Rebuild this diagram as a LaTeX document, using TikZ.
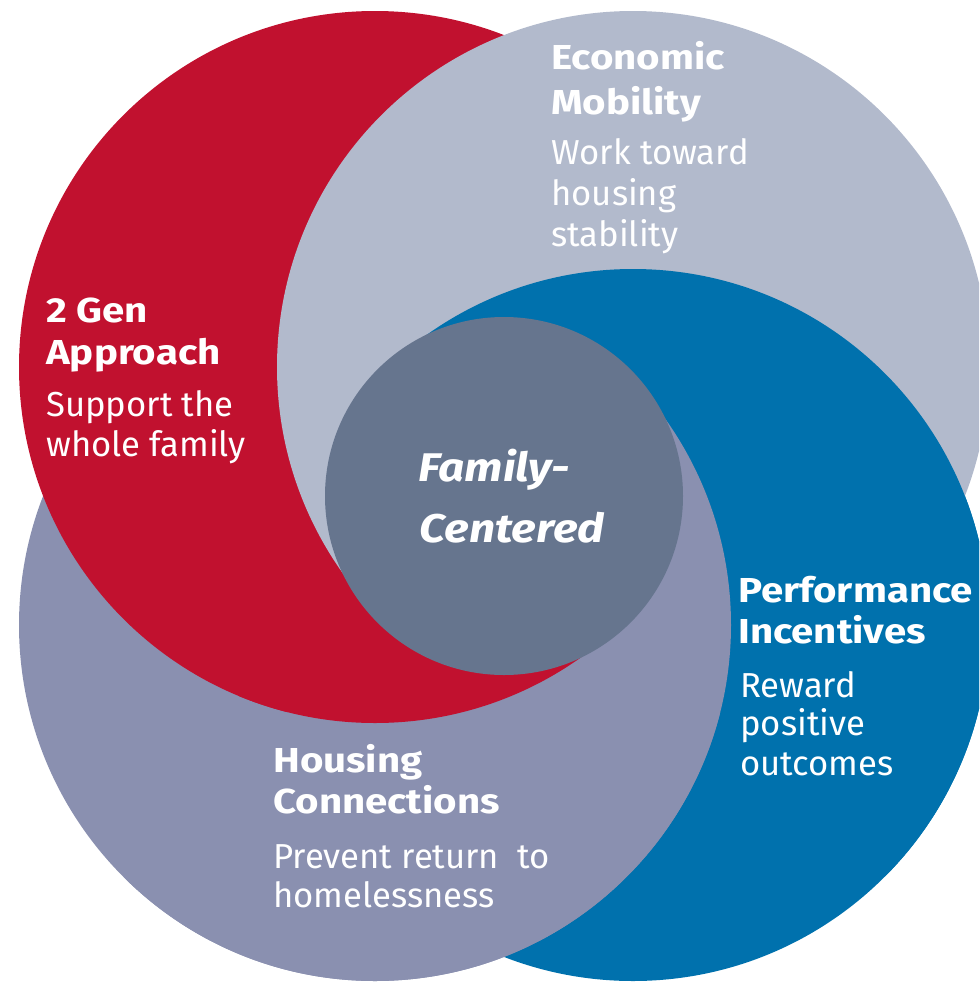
\documentclass[tikz,border=0pt]{standalone}
\usepackage{fontspec}
\setmainfont{Fira Sans}
\newfontfamily\widefont[FakeStretch=1.16]{Fira Sans}
\newfontfamily\ctrfont[FakeStretch=1.15]{Fira Sans}
\definecolor{cred}{HTML}{C1112F}
\definecolor{clg}{HTML}{B2BACC}
\definecolor{cblue}{HTML}{0071AD}
\definecolor{cpur}{HTML}{8A90B0}
\definecolor{cctr}{HTML}{66758E}
\newcommand\bigR{267pt}
\newcommand\diskP{\fill[cpur] (cP) circle[radius=\bigR];}
\newcommand\diskR{\fill[cred] (cR) circle[radius=\bigR];}
\newcommand\diskL{\fill[clg] (cL) circle[radius=\bigR];}
\newcommand\diskB{\fill[cblue] (cB) circle[radius=\bigR];}
\tikzset{
  title/.style={font=\fontsize{26}{30}\selectfont\widefont\bfseries, text=white, anchor=base west, inner sep=0},
  body/.style={font=\fontsize{26}{30}\selectfont, text=white, anchor=base west, inner sep=0},
  ctext/.style={font=\fontsize{30}{34}\selectfont\ctrfont\bfseries\itshape, text=white, anchor=base, inner sep=0}
}
\begin{document}
\begin{tikzpicture}[x=0.75pt,y=-0.75pt]
\useasboundingbox (0,0) rectangle (979,982);
\clip (0,0) rectangle (979,982);
\coordinate (cC) at (504,496);
\coordinate (cR) at (375,367);
\coordinate (cL) at (633,367);
\coordinate (cB) at (633,625);
\coordinate (cP) at (375,625);
% 1: stacking of the left quarter everywhere
\diskB \diskP \diskR \diskL
% 2: Economic Mobility circle above, in the top and right quarters
\begin{scope}
  \clip (cC) -- +(-1500,-1500) -- +(1500,-1500) -- +(1500,1500) -- cycle;
  \diskB
\end{scope}
% 3: Housing circle above, in the right and bottom quarters
\begin{scope}
  \clip (cC) -- +(1500,-1500) -- +(1500,1500) -- +(-1500,1500) -- cycle;
  \diskP
\end{scope}
% 4: 2 Gen circle above, in the bottom quarter (and a little beyond)
\begin{scope}
  \clip (cC) -- +(1500,1500) -- +(-1600,1500) -- +(-1597,1204) -- cycle;
  \diskR
\end{scope}
% centre
\node[circle, minimum size=268.5pt, inner sep=0, outer sep=0, fill=cctr] (centre) at (cC) {};
% texts
\node[title] (e1) at (551,69) {Economic};
\node[title] (e2) at (551,114) {Mobility};
\node[body] (e3) at (551,164) {Work toward};
\node[body] (e4) at (551,205) {housing};
\node[body] (e5) at (551,246) {stability};
\node[title] (g1) at (46,322) {2 Gen};
\node[title] (g2) at (46,364) {Approach};
\node[body] (g3) at (46,416) {Support the};
\node[body] (g4) at (46,456) {whole family};
\node[title] (p1) at (738,602) {Performance};
\node[title] (p2) at (738,643) {Incentives};
\node[body] (p3) at (740,697) {Reward};
\node[body] (p4) at (740,735) {positive};
\node[body] (p5) at (740,775) {outcomes};
\node[title] (h1) at (273,772) {Housing};
\node[title] (h2) at (273,813) {Connections};
\node[body] (h3) at (273,868) {Prevent return\ \ to};
\node[body] (h4) at (273,907) {homelessness};
\node[ctext] (c1) at (494,481) {Family-};
\node[ctext] (c2) at (512,542) {Centered};
\end{tikzpicture}
\end{document}
